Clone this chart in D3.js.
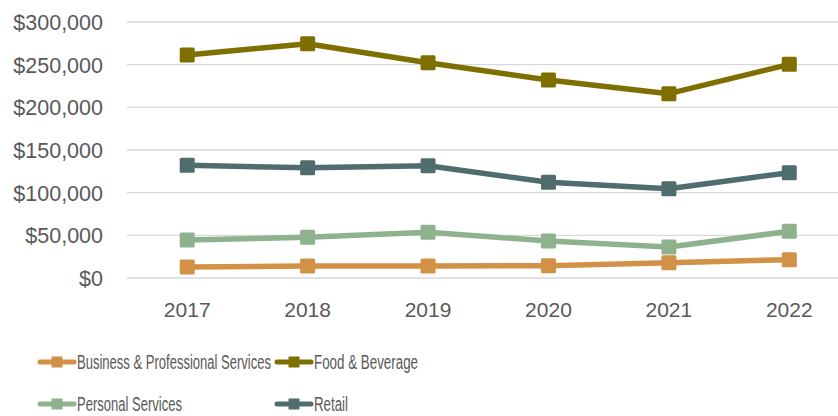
<!DOCTYPE html>
<html>
<head>
<meta charset="utf-8">
<script src="https://cdn.jsdelivr.net/npm/d3@7"></script>
<style>
  body { margin: 0; background: #fff; }
  svg { display: block; font-family: "Liberation Sans", Arial, sans-serif; }
</style>
</head>
<body>
<svg id="viz" width="838" height="416"></svg>
<script>
const years = ["2017", "2018", "2019", "2020", "2021", "2022"];
const seriesNames = ["Business & Professional Services", "Food & Beverage", "Personal Services", "Retail"];
const business = [12900, 14100, 14100, 14400, 17900, 21500];
const food = [261300, 274600, 252300, 232000, 216000, 250400];
const personal = [44500, 47700, 53500, 43400, 36300, 54700];
const retail = [132000, 129300, 131600, 112100, 104700, 123400];
const yTicks = [0, 50000, 100000, 150000, 200000, 250000, 300000];
const colors = ["#D39047", "#7F6E00", "#8FB28E", "#4F6D6D"];

const series = [business, food, personal, retail].map((vals, i) => ({
  name: seriesNames[i], color: colors[i], values: vals
}));

const svg = d3.select("#viz");
const width = 838;

const x = d3.scaleBand().domain(years).range([127, 849.5]);
const y = d3.scaleLinear().domain([0, 300000]).range([278, 22]);

// gridlines
svg.append("g")
  .selectAll("line")
  .data(yTicks)
  .join("line")
  .attr("x1", 127)
  .attr("x2", width)
  .attr("y1", d => y(d))
  .attr("y2", d => y(d))
  .attr("stroke", "#d9d9d9")
  .attr("stroke-width", 1.3);

// y axis labels
svg.append("g")
  .selectAll("text")
  .data(yTicks)
  .join("text")
  .attr("x", 103)
  .attr("y", d => y(d) + 8)
  .attr("text-anchor", "end")
  .attr("font-size", "21.5px")
  .attr("fill", "#595959")
  .text(d => "$" + d3.format(",")(d));

// x axis labels
svg.append("g")
  .selectAll("text")
  .data(years)
  .join("text")
  .attr("x", d => x(d) + x.bandwidth() / 2)
  .attr("y", 317)
  .attr("text-anchor", "middle")
  .attr("font-size", "21px")
  .attr("fill", "#595959")
  .text(d => d);

const line = d3.line()
  .x((d, i) => x(years[i]) + x.bandwidth() / 2)
  .y(d => y(d));

const ms = 15;

const groups = svg.append("g")
  .selectAll("g")
  .data(series)
  .join("g");

groups.append("path")
  .attr("d", d => line(d.values))
  .attr("fill", "none")
  .attr("stroke", d => d.color)
  .attr("stroke-width", 5.5)
  .attr("stroke-linejoin", "round");

groups.selectAll("rect")
  .data(d => d.values.map((v, i) => ({ v, i, color: d.color })))
  .join("rect")
  .attr("x", d => x(years[d.i]) + x.bandwidth() / 2 - ms / 2)
  .attr("y", d => y(d.v) - ms / 2)
  .attr("width", ms)
  .attr("height", ms)
  .attr("rx", 1.5)
  .attr("fill", d => d.color);

// legend
const legendPos = [[40, 362], [277, 362], [40, 404], [277, 404]];
const legendWidths = [194, 104, 105, 34];
const legend = svg.append("g")
  .selectAll("g")
  .data(series)
  .join("g")
  .attr("transform", (d, i) => `translate(${legendPos[i][0]},${legendPos[i][1]})`);

legend.append("line")
  .attr("x1", 0).attr("x2", 34)
  .attr("y1", 0).attr("y2", 0)
  .attr("stroke", d => d.color)
  .attr("stroke-width", 5)
  .attr("stroke-linecap", "round");

legend.append("rect")
  .attr("x", 17 - 5.5).attr("y", -5.5)
  .attr("width", 11).attr("height", 11)
  .attr("fill", d => d.color);

legend.append("text")
  .attr("x", 37)
  .attr("y", 7)
  .attr("font-size", "20px")
  .attr("fill", "#595959")
  .attr("textLength", (d, i) => legendWidths[i])
  .attr("lengthAdjust", "spacingAndGlyphs")
  .text(d => d.name);
</script>
</body>
</html>
